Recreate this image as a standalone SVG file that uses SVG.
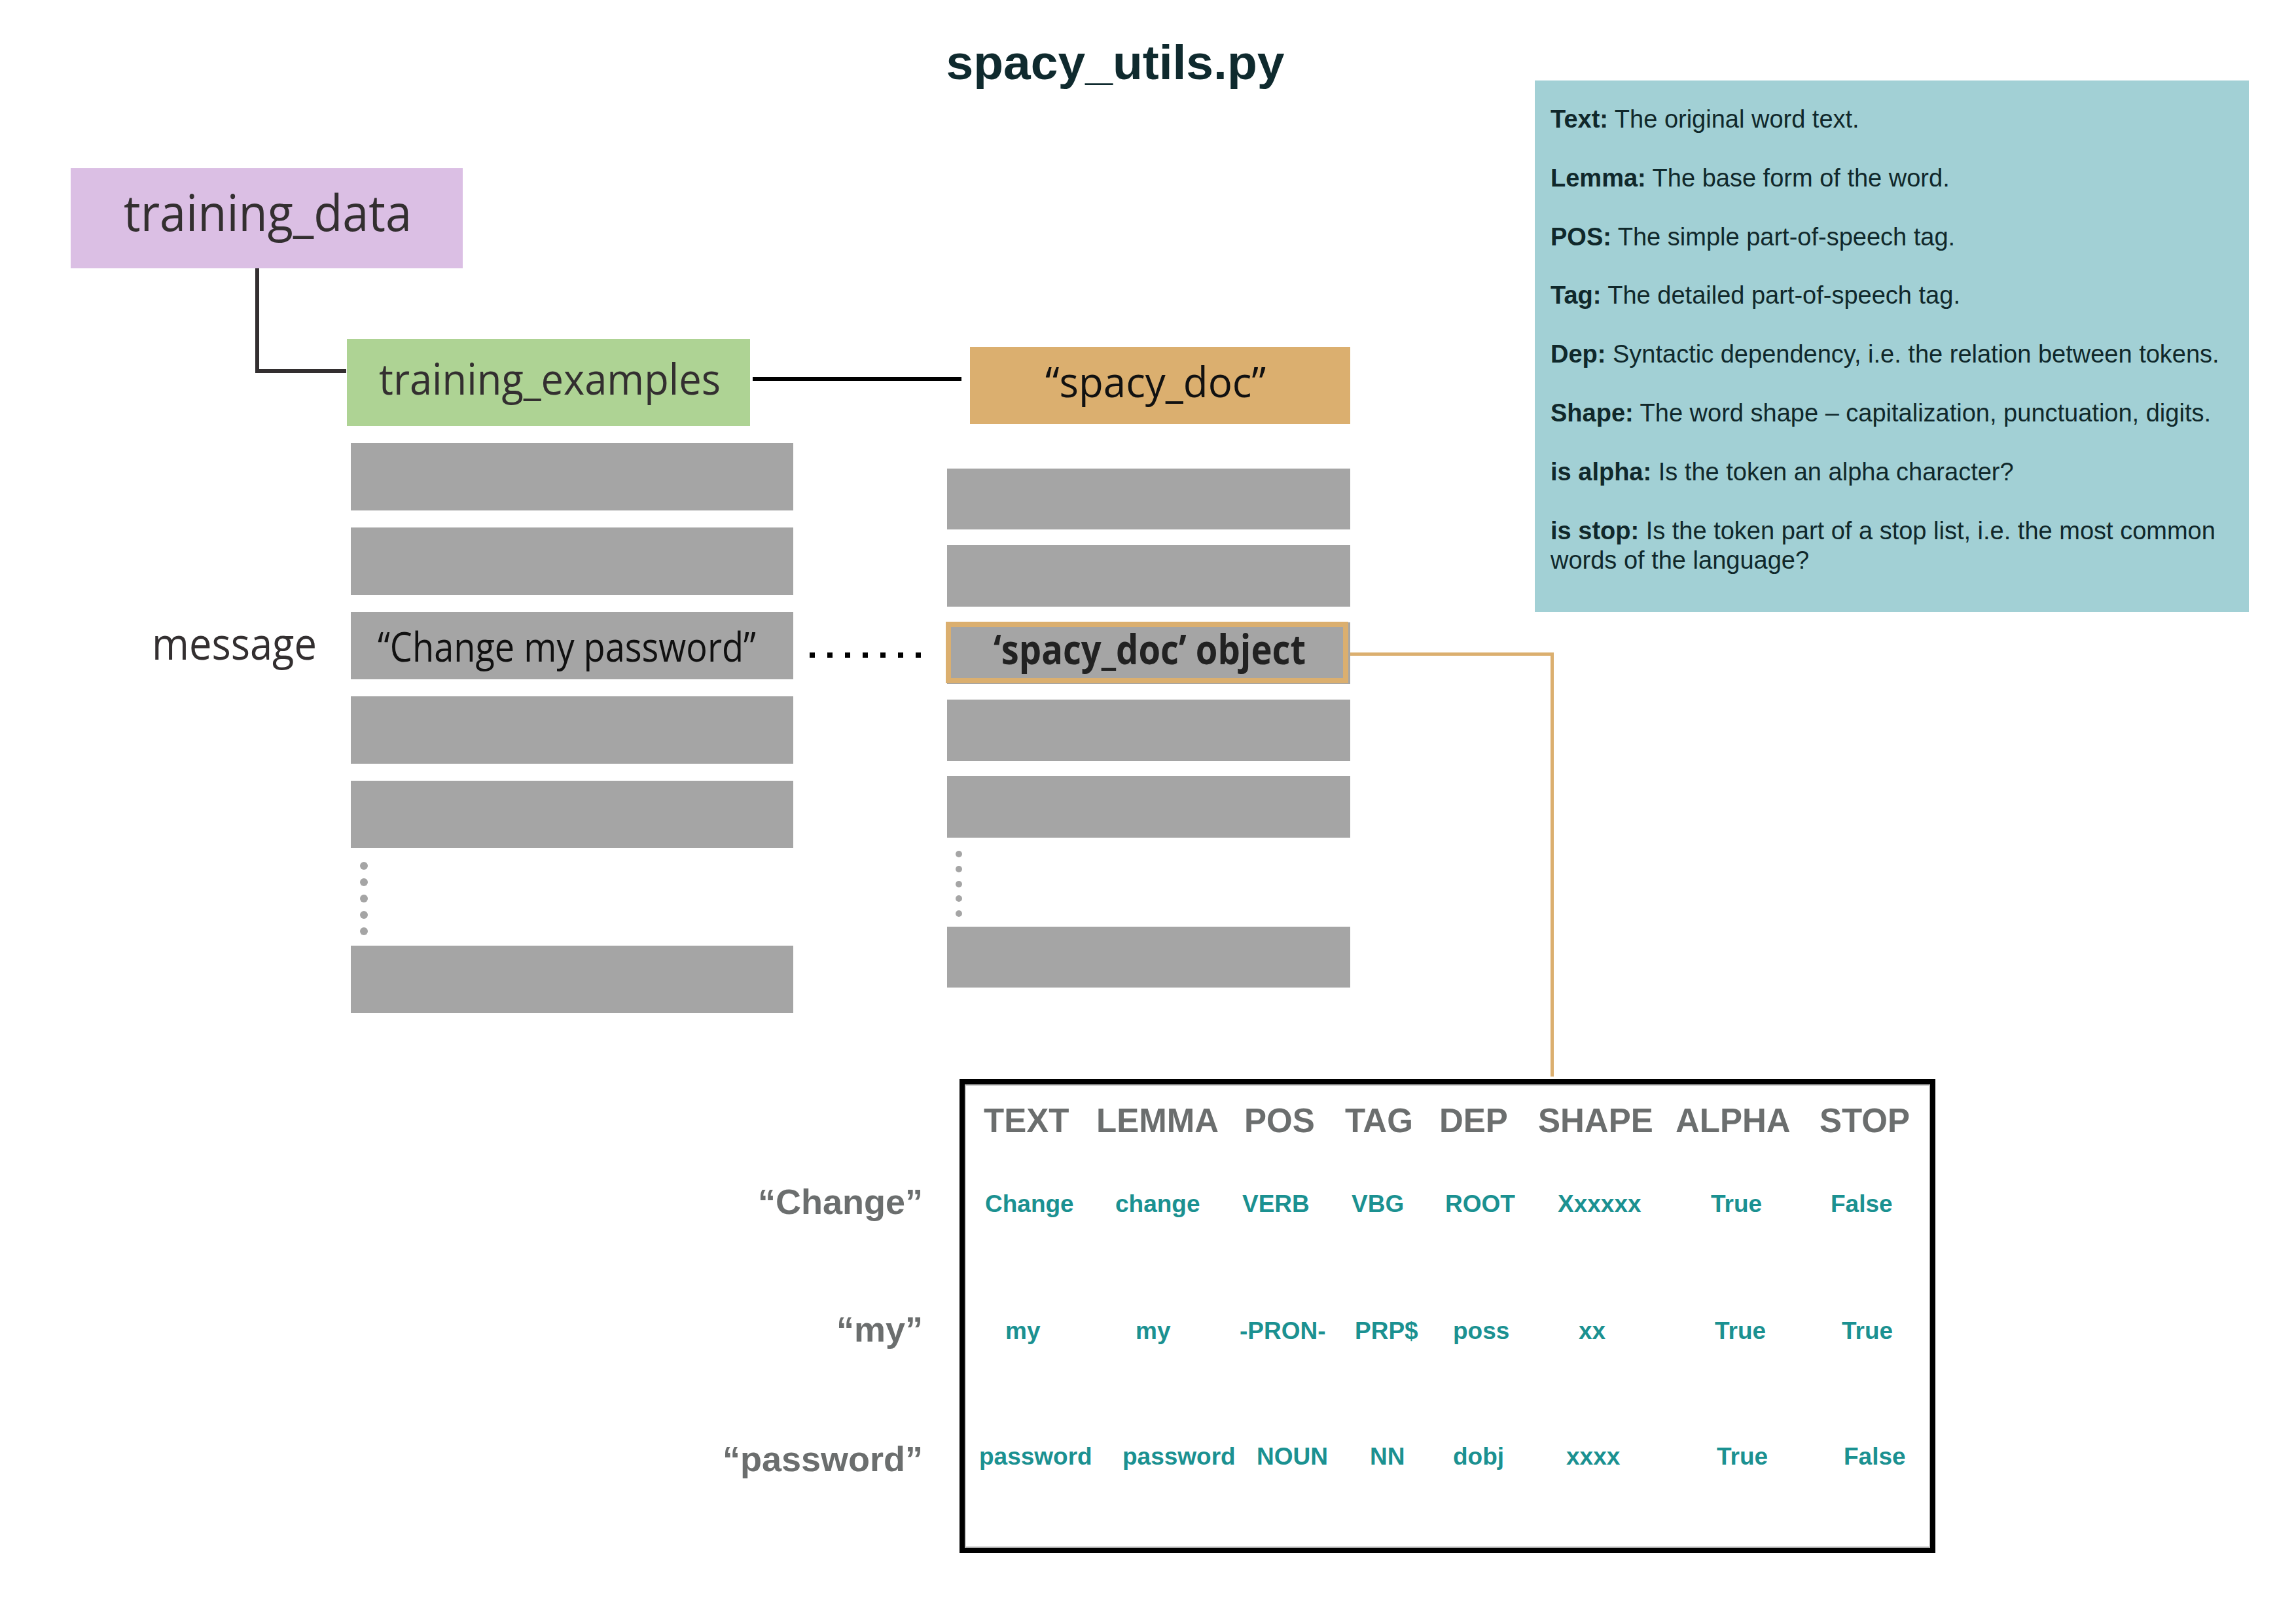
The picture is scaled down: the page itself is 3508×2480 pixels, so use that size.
<svg xmlns="http://www.w3.org/2000/svg" width="3508" height="2480" viewBox="0 0 3508 2480">
<style>
.myr{font-family:"Open Sans","Noto Sans","Liberation Sans",sans-serif;}
.ar{font-family:"Liberation Sans",Arial,sans-serif;}
.bar{fill:#a5a5a5;}
.info{font-family:"Liberation Sans",Arial,sans-serif;font-size:38px;fill:#10282b;}
.info .b{font-weight:bold;}
.hdr{font-family:"Liberation Sans",Arial,sans-serif;font-size:51px;font-weight:bold;fill:#6b6e6e;}
.cell{font-family:"Liberation Sans",Arial,sans-serif;font-size:37px;font-weight:bold;fill:#1b9191;}
.rowlbl{font-family:"Liberation Sans",Arial,sans-serif;font-size:54px;font-weight:bold;fill:#6b6e6e;text-anchor:end;}
.gdot{fill:#a5a5a5;}
</style>
<rect width="3508" height="2480" fill="#ffffff"/>

<text x="1704" y="121" class="ar" font-size="75" font-weight="bold" fill="#0f2a2e" text-anchor="middle">spacy_utils.py</text>

<g id="connectors">
  <path d="M393 410 V567 H529" fill="none" stroke="#332f30" stroke-width="6"/>
  <path d="M1150 579 H1469" fill="none" stroke="#000000" stroke-width="6"/>
  <path d="M1237 1001 H1407" fill="none" stroke="#000000" stroke-width="8" stroke-dasharray="8 19"/>
  <path d="M2063 999.5 H2371.5 V1645" fill="none" stroke="#dbaf6f" stroke-width="5"/>
</g>

<g id="training_data">
  <rect x="108" y="257" width="599" height="153" fill="#dbbfe4"/>
  <text x="189" y="353" class="myr" font-size="76" fill="#332f30" textLength="440" lengthAdjust="spacingAndGlyphs">training_data</text>
</g>

<g id="training_examples">
  <rect x="530" y="518" width="616" height="133" fill="#aed394"/>
  <text x="579" y="603" class="myr" font-size="66" fill="#332f30" textLength="522" lengthAdjust="spacingAndGlyphs">training_examples</text>
</g>

<g id="spacy_doc">
  <rect x="1482" y="530" width="581" height="118" fill="#dbaf6f"/>
  <text x="1597" y="607" class="myr" font-size="64" fill="#111111" textLength="337" lengthAdjust="spacingAndGlyphs">“spacy_doc”</text>
</g>

<g id="message_label">
  <text x="232" y="1008" class="myr" font-size="68" fill="#332f30" textLength="252" lengthAdjust="spacingAndGlyphs">message</text>
</g>

<g id="examples_list">
  <rect class="bar" x="536" y="677" width="676" height="103"/>
  <rect class="bar" x="536" y="806" width="676" height="103"/>
  <rect class="bar" x="536" y="935" width="676" height="103"/>
  <text x="577" y="1011" class="myr" font-size="62" fill="#111111" textLength="578" lengthAdjust="spacingAndGlyphs">“Change my password”</text>
  <rect class="bar" x="536" y="1064" width="676" height="103"/>
  <rect class="bar" x="536" y="1193" width="676" height="103"/>
  <circle class="gdot" cx="556" cy="1323" r="6"/>
  <circle class="gdot" cx="556" cy="1348" r="6"/>
  <circle class="gdot" cx="556" cy="1373" r="6"/>
  <circle class="gdot" cx="556" cy="1398" r="6"/>
  <circle class="gdot" cx="556" cy="1423" r="6"/>
  <rect class="bar" x="536" y="1445" width="676" height="103"/>
</g>

<g id="docs_list">
  <rect class="bar" x="1447" y="716" width="616" height="93"/>
  <rect class="bar" x="1447" y="833" width="616" height="94"/>
  <rect class="bar" x="1447" y="1069" width="616" height="94"/>
  <rect class="bar" x="1447" y="1186" width="616" height="94"/>
  <circle class="gdot" cx="1465" cy="1305" r="5"/>
  <circle class="gdot" cx="1465" cy="1328" r="5"/>
  <circle class="gdot" cx="1465" cy="1351" r="5"/>
  <circle class="gdot" cx="1465" cy="1373" r="5"/>
  <circle class="gdot" cx="1465" cy="1396" r="5"/>
  <rect class="bar" x="1447" y="1416" width="616" height="93"/>
</g>

<g id="spacy_doc_object">
  <rect class="bar" x="1447" y="951" width="616" height="94"/>
  <rect x="1449" y="954" width="607" height="86" fill="none" stroke="#dbaf6f" stroke-width="8"/>
  <text x="1518" y="1015" class="myr" font-size="62" font-weight="bold" fill="#222222" textLength="477" lengthAdjust="spacingAndGlyphs">‘spacy_doc’ object</text>
</g>

<g id="legend">
  <rect x="2345" y="123" width="1091" height="812" fill="#a2d0d5"/>
  <text class="info" x="2369" y="195"><tspan class="b">Text:</tspan> The original word text.</text>
  <text class="info" x="2369" y="285"><tspan class="b">Lemma:</tspan> The base form of the word.</text>
  <text class="info" x="2369" y="375"><tspan class="b">POS:</tspan> The simple part-of-speech tag.</text>
  <text class="info" x="2369" y="464"><tspan class="b">Tag:</tspan> The detailed part-of-speech tag.</text>
  <text class="info" x="2369" y="554"><tspan class="b">Dep:</tspan> Syntactic dependency, i.e. the relation between tokens.</text>
  <text class="info" x="2369" y="644"><tspan class="b">Shape:</tspan> The word shape – capitalization, punctuation, digits.</text>
  <text class="info" x="2369" y="734"><tspan class="b">is alpha:</tspan> Is the token an alpha character?</text>
  <text class="info" x="2369" y="824"><tspan class="b">is stop:</tspan> Is the token part of a stop list, i.e. the most common</text>
  <text class="info" x="2369" y="869">words of the language?</text>
</g>

<g id="token_table">
  <rect x="1470" y="1653" width="1483" height="716" fill="#ffffff" stroke="#000000" stroke-width="8"/>
  <rect x="1475" y="1658" width="1473" height="706" fill="none" stroke="#b5b5b5" stroke-width="1.5"/>
  <text class="hdr" x="1503" y="1730">TEXT</text>
  <text class="hdr" x="1675" y="1730">LEMMA</text>
  <text class="hdr" x="1901" y="1730">POS</text>
  <text class="hdr" x="2055" y="1730">TAG</text>
  <text class="hdr" x="2199" y="1730">DEP</text>
  <text class="hdr" x="2350" y="1730">SHAPE</text>
  <text class="hdr" x="2560" y="1730">ALPHA</text>
  <text class="hdr" x="2780" y="1730">STOP</text>

  <text class="cell" x="1505" y="1852">Change</text>
  <text class="cell" x="1704" y="1852">change</text>
  <text class="cell" x="1898" y="1852">VERB</text>
  <text class="cell" x="2065" y="1852">VBG</text>
  <text class="cell" x="2208" y="1852">ROOT</text>
  <text class="cell" x="2380" y="1852">Xxxxxx</text>
  <text class="cell" x="2614" y="1852">True</text>
  <text class="cell" x="2797" y="1852">False</text>

  <text class="cell" x="1536" y="2046">my</text>
  <text class="cell" x="1735" y="2046">my</text>
  <text class="cell" x="1894" y="2046">-PRON-</text>
  <text class="cell" x="2070" y="2046">PRP$</text>
  <text class="cell" x="2220" y="2046">poss</text>
  <text class="cell" x="2412" y="2046">xx</text>
  <text class="cell" x="2620" y="2046">True</text>
  <text class="cell" x="2814" y="2046">True</text>

  <text class="cell" x="1496" y="2238">password</text>
  <text class="cell" x="1715" y="2238">password</text>
  <text class="cell" x="1920" y="2238">NOUN</text>
  <text class="cell" x="2093" y="2238">NN</text>
  <text class="cell" x="2220" y="2238">dobj</text>
  <text class="cell" x="2393" y="2238">xxxx</text>
  <text class="cell" x="2623" y="2238">True</text>
  <text class="cell" x="2817" y="2238">False</text>
</g>

<g id="row_labels">
  <text class="rowlbl" x="1410" y="1855">“Change”</text>
  <text class="rowlbl" x="1410" y="2050">“my”</text>
  <text class="rowlbl" x="1410" y="2248">“password”</text>
</g>
</svg>
